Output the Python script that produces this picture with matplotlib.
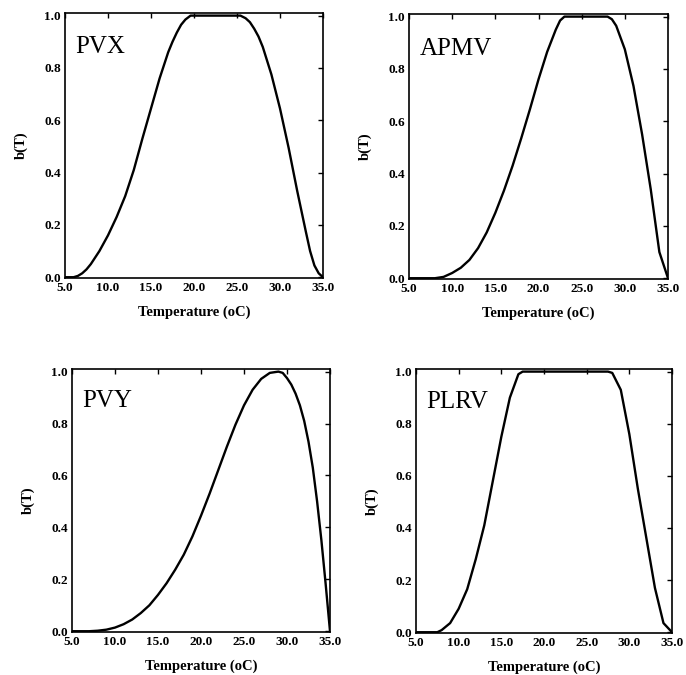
import matplotlib
matplotlib.use("Agg")
import matplotlib.pyplot as plt
import numpy as np

# ---- data ----
pvx_T = [5, 6, 6.5, 7, 7.5, 8, 8.5, 9, 9.5, 10, 11, 12, 13, 14, 15, 16, 17, 17.5, 18, 18.5, 19, 19.6,
         20, 21, 22, 23, 24, 25, 25.4, 26, 26.5, 27, 27.5, 28, 29, 30, 31, 32, 33, 33.5, 34, 34.5, 35]
pvx_b = [0, 0.0, 0.005, 0.015, 0.03, 0.05, 0.075, 0.10, 0.13, 0.16, 0.23, 0.31, 0.41, 0.53, 0.645, 0.76, 0.86, 0.90, 0.935, 0.965, 0.985, 1.0,
         1.0, 1.0, 1.0, 1.0, 1.0, 1.0, 1.0, 0.99, 0.975, 0.95, 0.92, 0.88, 0.775, 0.645, 0.495, 0.33, 0.175, 0.10, 0.045, 0.015, 0.0]

apmv_T = [5, 6, 7, 8, 9, 10, 11, 12, 13, 14, 15, 16, 17, 18, 19, 20, 21, 22, 22.5, 23, 24, 25, 26, 27, 28, 28.5, 29, 30, 31, 32, 33, 34, 35]
apmv_b = [0, 0, 0, 0, 0.005, 0.02, 0.04, 0.07, 0.115, 0.175, 0.25, 0.335, 0.43, 0.535, 0.645, 0.76, 0.865, 0.95, 0.985, 1.0, 1.0, 1.0, 1.0, 1.0, 1.0, 0.99, 0.965, 0.875, 0.735, 0.55, 0.34, 0.10, 0.0]

pvy_T = [5, 6, 7, 8, 9, 10, 11, 12, 13, 14, 15, 16, 17, 18, 19, 20, 21, 22, 23, 24, 25, 26, 27, 28, 29,
         29.5, 30, 30.5, 31, 31.5, 32, 32.5, 33, 33.5, 34, 34.5, 35]
pvy_b = [0, 0, 0, 0.002, 0.006, 0.014, 0.027, 0.045, 0.07, 0.10, 0.14, 0.185, 0.237, 0.295, 0.365, 0.445, 0.53, 0.62, 0.71, 0.795, 0.87, 0.93, 0.972, 0.995, 1.0,
         0.995, 0.975, 0.95, 0.915, 0.87, 0.81, 0.73, 0.63, 0.50, 0.35, 0.18, 0.0]

plrv_T = [5, 6, 7, 7.5, 8, 9, 10, 11, 12, 13, 14, 15, 16, 17, 17.5, 18, 20, 22, 24, 26, 27.5, 28, 29, 30, 31, 32, 33, 34, 35]
plrv_b = [0, 0, 0, 0.0, 0.008, 0.035, 0.09, 0.165, 0.28, 0.41, 0.58, 0.75, 0.90, 0.99, 1.0, 1.0, 1.0, 1.0, 1.0, 1.0, 1.0, 0.995, 0.93, 0.76, 0.55, 0.36, 0.17, 0.035, 0.0]

names = ["PVX", "APMV", "PVY", "PLRV"]
x_ticks = [5.0, 10.0, 15.0, 20.0, 25.0, 30.0, 35.0]
y_ticks = [0.0, 0.2, 0.4, 0.6, 0.8, 1.0]
x_label = "Temperature (oC)"
y_label = "b(T)"

series = [(pvx_T, pvx_b), (apmv_T, apmv_b), (pvy_T, pvy_b), (plrv_T, plrv_b)]

W, H = 686, 675
# pixel boxes: left, right, top, bottom
boxes = [(65, 323, 13, 278), (409, 668, 14, 279), (72, 330, 369, 632), (416, 672, 369, 633)]
name_pos = [(0.040, 0.849), (0.042, 0.845), (0.039, 0.856), (0.038, 0.852)]

plt.rcParams['font.family'] = ['Liberation Serif', 'DejaVu Serif']

fig = plt.figure(figsize=(W / 100, H / 100), dpi=100)
fig.patch.set_facecolor('white')

for (T, b), name, (l, r, t, bt), (nx, ny) in zip(series, names, boxes, name_pos):
    ax = fig.add_axes([l / W, (H - bt) / H, (r - l) / W, (bt - t) / H])
    ax.plot(T, b, color='black', lw=1.7, solid_joinstyle='round')
    ax.set_xlim(5, 35)
    ax.set_ylim(-0.003, 1.01)
    ax.set_xticks(x_ticks)
    ax.set_yticks(y_ticks)
    ax.set_xticklabels([f"{v:.1f}" for v in x_ticks], fontsize=9.5, fontweight='bold')
    ax.set_yticklabels([f"{v:.1f}" for v in y_ticks], fontsize=9.5, fontweight='bold')
    ax.tick_params(axis='both', which='both', direction='in', top=True, right=True,
                   bottom=False, left=False, labelbottom=True, labelleft=True,
                   length=3.5, width=1.0, pad=3)
    for s in ax.spines.values():
        s.set_linewidth(1.2)
    ax.set_xlabel(x_label, fontsize=10.5, fontweight='bold', labelpad=8)
    ax.set_ylabel(y_label, fontsize=10.5, fontweight='bold', labelpad=12)
    ax.text(nx, ny, name, transform=ax.transAxes, fontsize=18, va='baseline', ha='left')

fig.savefig("out.png", dpi=100, facecolor='white')
